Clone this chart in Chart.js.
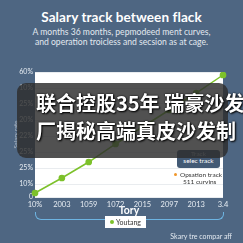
<!DOCTYPE html>
<html>
<head>
<meta charset="utf-8">
<script src="https://cdn.jsdelivr.net/npm/chart.js@4.4.1/dist/chart.umd.min.js"></script>
<style>
  html,body{margin:0;padding:0;}
  body{width:243px;height:243px;background:#4e6682;position:relative;overflow:hidden;font-family:Lato,"Open Sans",sans-serif;}
  #c{position:absolute;left:0;top:0;}
  .abs{position:absolute;}
  #title{top:9px;left:0;width:243px;text-align:center;color:#fff;font:700 13.5px Lato,sans-serif;letter-spacing:0.1px;}
  #sub{top:27px;left:0;width:243px;text-align:center;color:#e3e9f0;font:8.6px Lato,sans-serif;line-height:10px;}
  #track{left:177px;top:150px;width:43px;height:18px;background:#435a75;border-radius:3px;color:#fff;text-align:center;font:6.5px Lato,sans-serif;line-height:7px;}
  #note{left:174px;top:172px;font:6.5px Lato,sans-serif;color:#333;line-height:6.5px;}
  #note i{display:inline-block;width:3px;height:3px;border-radius:50%;background:#f0962a;margin-right:3px;vertical-align:1px;}
  #cover{left:17px;top:83px;width:211px;height:75px;background:rgba(46,46,46,0.83);border-radius:9px;}
  #cn{left:36px;top:89px;white-space:nowrap;color:#fff;font:700 20px "Noto Sans CJK SC",sans-serif;line-height:28px;text-shadow:1px 1px 2px #000,0 0 2px #000;}
  #bracket{left:35px;top:212px;width:187px;height:7px;border:1px solid #6db4e2;border-top:none;border-radius:0 0 6px 6px;}
  #legend{left:105px;top:216px;width:41px;height:12px;background:#fff;font:7px Lato,sans-serif;color:#333;line-height:12px;text-align:center;}
  #legend i{display:inline-block;width:4px;height:4px;border-radius:50%;background:#7dc12b;margin-right:2px;vertical-align:1px;}
  #foot{right:11px;top:232px;font:7px Lato,sans-serif;color:#e3e9f0;}
</style>
</head>
<body>
<div id="title" class="abs">Salary track between flack</div>
<div id="sub" class="abs">A months 36 months, pepmodeed ment curves,<br>and operation troicless and secsion as at cage.</div>
<canvas id="c" width="243" height="243"></canvas>
<div id="track" class="abs"><span style="opacity:.6">Track</span><br>selec track</div>
<div id="note" class="abs"><i></i>Opsation track<br><span style="padding-left:9px">511 curvins</span></div>
<div id="cover" class="abs"></div>
<div id="cn" class="abs">联合控股35年 瑞豪沙发<br>厂揭秘高端真皮沙发制</div>
<div id="bracket" class="abs"></div>
<div id="legend" class="abs"><i></i>Youtang</div>
<div id="foot" class="abs">Skary tre compar aff</div>
<script>
const categories=['10%','2003','1059','1072','2015','2097','2013','3.4'];
const youtang=[3.2,15.2,28,42.4,56,69.6,83.2,97.6];
const yTickValues=[0,10.4,23.2,36,48.8,61.6,74.4,87.2,100];
const yTickLabels=['0','10%','25%','25%','22%','20%','25%','10%','60%'];

// white plot area + thin top edge
const plotBg={id:'plotBg',beforeDraw(chart){
  const {ctx,chartArea:a}=chart; ctx.save(); ctx.fillStyle='#fff';
  ctx.fillRect(a.left,a.top,a.right-a.left,a.bottom-a.top);
  ctx.strokeStyle='#cfd4da'; ctx.lineWidth=1; ctx.beginPath(); ctx.moveTo(a.left,a.top+0.5); ctx.lineTo(a.right,a.top+0.5); ctx.stroke();
  ctx.restore();
}};

new Chart(document.getElementById('c'),{
  type:'line',
  data:{labels:categories,datasets:[{label:'Youtang',data:youtang,borderColor:'#7dc12b',backgroundColor:'#7dc12b',
    pointBackgroundColor:'#7dc12b',pointBorderColor:'#7dc12b',pointRadius:2.6,borderWidth:1.5,tension:0}]},
  options:{
    responsive:false,animation:false,
    layout:{padding:{top:72,left:12,right:20,bottom:26}},
    plugins:{legend:{display:false},title:{display:false},tooltip:{enabled:false}},
    scales:{
      x:{type:'category',offset:false,
        grid:{display:false,drawTicks:false},border:{display:false},
        ticks:{color:'#e6ecf2',font:{size:7.5,family:'Lato'},padding:3,maxRotation:0,autoSkip:false},
        title:{display:true,text:'Tory',color:'#fff',font:{size:10.5,weight:'bold',family:'Lato'},padding:{top:0,bottom:0}},
        afterFit(s){s.height=20;}},
      y:{min:0,max:100,
        afterBuildTicks(s){s.ticks=yTickValues.map(v=>({value:v}));},
        grid:{color:'#e9ecef',drawTicks:false},border:{display:false},
        ticks:{color:'#e6ecf2',font:{size:7,family:'Lato'},padding:2,callback:(v,i)=>yTickLabels[i]},
        title:{display:true,text:'Salary rate',color:'rgba(255,255,255,0.55)',font:{size:6,family:'Lato'},padding:0},
        afterFit(s){s.width=23;}}
    }
  },
  plugins:[plotBg]
});
</script>
</body>
</html>
